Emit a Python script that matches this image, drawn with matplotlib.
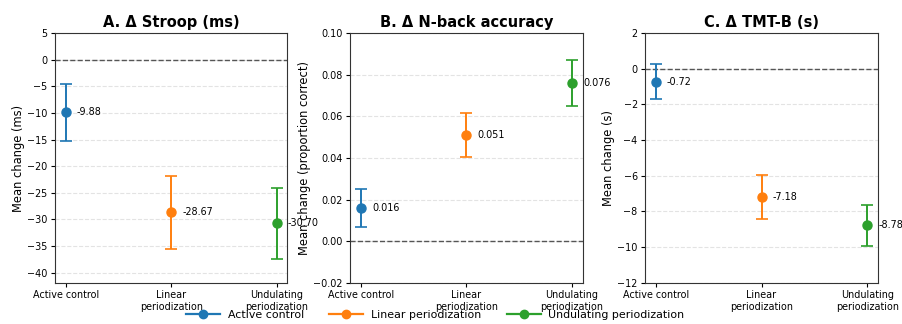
import matplotlib
matplotlib.use("Agg")
import matplotlib.pyplot as plt
from matplotlib.lines import Line2D
from matplotlib.ticker import MultipleLocator

groups = ["Active control", "Linear periodization", "Undulating periodization"]
tick_labels = ["Active control", "Linear\nperiodization", "Undulating\nperiodization"]
colors = ["#1f77b4", "#ff7f0e", "#2ca02c"]

titles = ["A. \u0394 Stroop (ms)", "B. \u0394 N-back accuracy", "C. \u0394 TMT-B (s)"]
ylabels = ["Mean change (ms)", "Mean change (proportion correct)", "Mean change (s)"]

stroop_mean = [-9.88, -28.67, -30.70]
stroop_err = [5.3, 6.9, 6.65]
nback_mean = [0.016, 0.051, 0.076]
nback_err = [0.009, 0.0105, 0.011]
tmt_mean = [-0.72, -7.18, -8.78]
tmt_err = [0.99, 1.25, 1.14]

means = [stroop_mean, nback_mean, tmt_mean]
errs = [stroop_err, nback_err, tmt_err]
fmts = ["{:.2f}", "{:.3f}", "{:.2f}"]
ylims = [(-41.9, 5), (-0.02, 0.10), (-12, 2)]
ysteps = [5, 0.02, 2]

fig, axes = plt.subplots(1, 3, figsize=(9.03, 3.24), dpi=100)
fig.subplots_adjust(left=0.061, right=0.972, top=0.898, bottom=0.127, wspace=0.27)

for ax, m, e, fmt, yl, st, t, ylab in zip(axes, means, errs, fmts, ylims, ysteps, titles, ylabels):
    ax.axhline(0, color="#555555", linestyle="--", linewidth=1.0, zorder=1)
    for i in range(3):
        ax.errorbar(i, m[i], yerr=e[i], fmt="o", color=colors[i], ecolor=colors[i],
                    markersize=6.5, elinewidth=1.4, capsize=4.5, capthick=1.2,
                    label=groups[i], zorder=3)
        ax.annotate(fmt.format(m[i]), (i, m[i]), xytext=(8, 0), textcoords="offset points",
                    va="center", ha="left", fontsize=6.9)
    ax.set_xlim(-0.1, 2.1)
    ax.set_ylim(*yl)
    ax.yaxis.set_major_locator(MultipleLocator(st))
    ax.set_xticks(range(3))
    ax.set_xticklabels(tick_labels, fontsize=6.9)
    ax.tick_params(axis="both", labelsize=6.9, length=3, pad=2.5)
    ax.set_title(t, fontsize=10.5, fontweight="bold", pad=4.5)
    ax.set_ylabel(ylab, fontsize=8.3, labelpad=1.5)
    ax.yaxis.grid(True, linestyle="--", alpha=0.35)
    ax.set_axisbelow(True)
    for s in ax.spines.values():
        s.set_color("#333333")

leg_handles = [Line2D([0], [0], color=c, marker="o", markersize=6, linewidth=1.6) for c in colors]
fig.legend(leg_handles, groups, loc="center", bbox_to_anchor=(0.482, 0.028), ncol=3,
           frameon=False, fontsize=7.9, handlelength=3.1, columnspacing=2.3, handletextpad=0.7)

fig.savefig("out.png", dpi=100)
